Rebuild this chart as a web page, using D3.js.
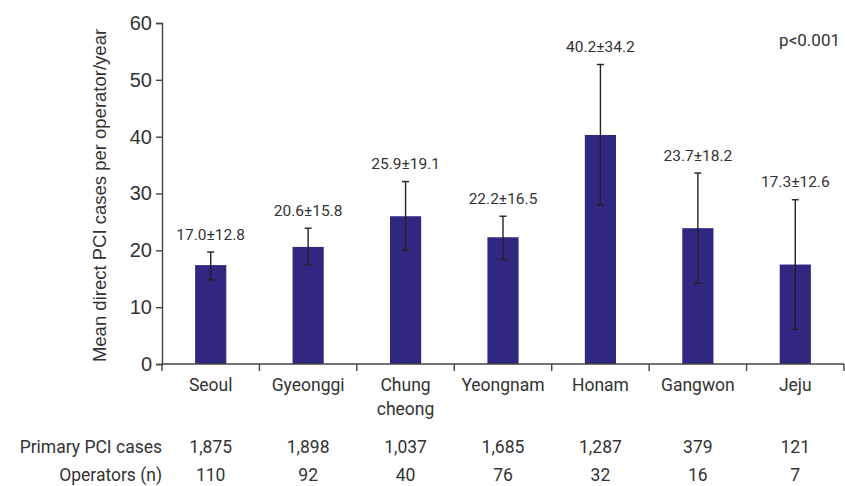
<!DOCTYPE html>
<html>
<head>
<meta charset="utf-8">
<script src="https://cdn.jsdelivr.net/npm/d3@7"></script>
<style>
  body { margin: 0; background: #fff; }
  text { fill: #333; }
</style>
</head>
<body>
<div class="main"></div>
<script>
let regions = ['Seoul', 'Gyeonggi', 'Chung cheong', 'Yeongnam', 'Honam', 'Gangwon', 'Jeju']
let means = [17.4, 20.6, 26.0, 22.3, 40.3, 23.9, 17.5]
let errLow = [14.8, 17.4, 20.0, 18.4, 28.0, 14.2, 6.1]
let errHigh = [19.7, 23.9, 32.1, 26.0, 52.7, 33.6, 28.9]
let barLabels = ['17.0±12.8', '20.6±15.8', '25.9±19.1', '22.2±16.5', '40.2±34.2', '23.7±18.2', '17.3±12.6']
let primaryCases = ['1,875', '1,898', '1,037', '1,685', '1,287', '379', '121']
let operators = ['110', '92', '40', '76', '32', '16', '7']
let yTicks = [0, 10, 20, 30, 40, 50, 60]

let W = 845, H = 486
let margin = {top: 23, right: 1, bottom: 122, left: 162}
let chartW = W - margin.left - margin.right
let chartH = H - margin.top - margin.bottom

let svg = d3.select('.main').append('svg')
  .attr('width', W).attr('height', H)
  .style('font-family', 'Roboto, sans-serif')

let x = d3.scaleBand().domain(regions).range([0, chartW])
let y = d3.scaleLinear().domain([0, 60]).range([chartH, 0])

let g = svg.append('g').attr('transform', `translate(${margin.left},${margin.top})`)

// bars
g.selectAll('rect.bar').data(regions).enter().append('rect')
  .attr('class', 'bar')
  .attr('x', d => x(d) + x.bandwidth() * 0.34)
  .attr('width', x.bandwidth() * 0.32)
  .attr('y', (d, i) => y(means[i]))
  .attr('height', (d, i) => chartH - y(means[i]))
  .style('fill', '#2f2780')

// error bars
let cx = d => x(d) + x.bandwidth() / 2
let eb = g.append('g').attr('stroke', '#222').attr('stroke-width', 1.4)
eb.selectAll('line.v').data(regions).enter().append('line')
  .attr('x1', cx).attr('x2', cx)
  .attr('y1', (d, i) => y(errLow[i])).attr('y2', (d, i) => y(errHigh[i]))
eb.selectAll('line.t').data(regions).enter().append('line')
  .attr('x1', d => cx(d) - 3.5).attr('x2', d => cx(d) + 3.5)
  .attr('y1', (d, i) => y(errHigh[i])).attr('y2', (d, i) => y(errHigh[i]))
eb.selectAll('line.b').data(regions).enter().append('line')
  .attr('x1', d => cx(d) - 3.5).attr('x2', d => cx(d) + 3.5)
  .attr('y1', (d, i) => y(errLow[i])).attr('y2', (d, i) => y(errLow[i]))

// value labels
g.selectAll('text.val').data(regions).enter().append('text')
  .attr('x', cx)
  .attr('y', (d, i) => y(errHigh[i]) - 12.5)
  .attr('text-anchor', 'middle')
  .style('font-size', '15.5px')
  .text((d, i) => barLabels[i])

// y axis
let yAxis = d3.axisLeft(y).tickValues(yTicks).tickSize(6).tickPadding(4)
let ya = g.append('g').call(yAxis)
ya.selectAll('text').style('font-size', '20px').style('font-family', '"Liberation Sans", Arial, sans-serif').style('fill', '#333')
ya.selectAll('line, path').attr('stroke', '#444').attr('stroke-width', 1.4)

// x axis with ticks at band edges
let xa = g.append('g').attr('transform', `translate(0,${chartH})`)
xa.append('line').attr('x1', 0).attr('x2', chartW).attr('stroke', '#444').attr('stroke-width', 1.4)
xa.selectAll('line.tick').data(regions.concat(['end'])).enter().append('line')
  .attr('x1', (d, i) => i < regions.length ? x(d) : chartW)
  .attr('x2', (d, i) => i < regions.length ? x(d) : chartW)
  .attr('y1', 0).attr('y2', 7)
  .attr('stroke', '#444').attr('stroke-width', 1.4)

let catFont = '17.5px'
xa.selectAll('text.cat').data(regions).enter().append('text')
  .attr('x', cx).attr('y', 27)
  .attr('text-anchor', 'middle')
  .style('font-size', catFont)
  .each(function (d) {
    let parts = d === 'Chung cheong' ? ['Chung', 'cheong'] : [d]
    d3.select(this).selectAll('tspan').data(parts).enter().append('tspan')
      .attr('x', cx(d)).attr('dy', (p, j) => j === 0 ? 0 : 24)
      .text(p => p)
  })

// table rows
let rows = [['Primary PCI cases', primaryCases, 89], ['Operators (n)', operators, 117]]
rows.forEach(([label, vals, dy]) => {
  xa.append('text').attr('x', 0).attr('y', dy)
    .attr('text-anchor', 'end').style('font-size', catFont).text(label)
  xa.selectAll(null).data(regions).enter().append('text')
    .attr('x', cx).attr('y', dy)
    .attr('text-anchor', 'middle').style('font-size', catFont)
    .text((d, i) => vals[i])
})

// y title
svg.append('text')
  .attr('transform', `translate(106,${margin.top + chartH / 2 + 2}) rotate(-90)`)
  .attr('text-anchor', 'middle')
  .style('font-family', '"Liberation Sans", Arial, sans-serif')
  .style('font-size', '18.5px')
  .text('Mean direct PCI cases per operator/year')

// p value
svg.append('text')
  .attr('x', 840).attr('y', 46)
  .attr('text-anchor', 'end')
  .style('font-size', '17px')
  .text('p<0.001')
</script>
</body>
</html>
